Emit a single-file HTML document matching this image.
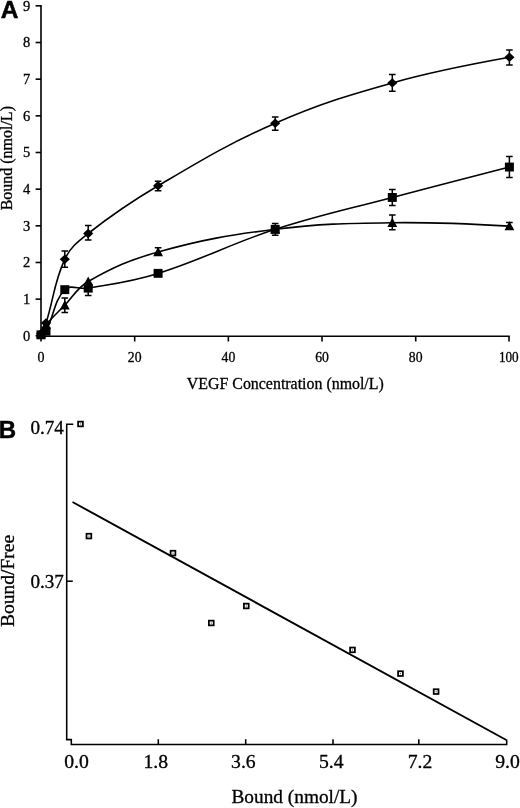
<!DOCTYPE html><html><head><meta charset="utf-8"><title>Figure</title>
<style>html,body{margin:0;padding:0;background:#fff}svg{display:block;opacity:.999;will-change:transform}text{font-family:"Liberation Serif","Times New Roman",serif;fill:#000;stroke:#000;stroke-width:.3px}.b{font-family:"Liberation Sans",Arial,sans-serif;font-weight:bold;fill:#000;stroke-width:.5px}</style></head><body>
<svg width="520" height="808" viewBox="0 0 520 808">
<rect width="520" height="808" fill="#fff"/>
<g stroke="#000" stroke-width="1.6" fill="none" stroke-linecap="butt">
<path d="M41.0,5.0 V336.2 H509.8"/>
<path d="M35.6,335.80 H41.0"/>
<path d="M35.6,299.14 H41.0"/>
<path d="M35.6,262.48 H41.0"/>
<path d="M35.6,225.82 H41.0"/>
<path d="M35.6,189.16 H41.0"/>
<path d="M35.6,152.50 H41.0"/>
<path d="M35.6,115.84 H41.0"/>
<path d="M35.6,79.18 H41.0"/>
<path d="M35.6,42.52 H41.0"/>
<path d="M35.6,5.80 H41.0"/>
<path d="M41.00,336.2 V341.5"/>
<path d="M134.68,336.2 V341.5"/>
<path d="M228.36,336.2 V341.5"/>
<path d="M322.04,336.2 V341.5"/>
<path d="M415.72,336.2 V341.5"/>
<path d="M509.00,336.2 V341.5"/>
</g>
<text x="30.2" y="340.6" font-size="14.5" text-anchor="end">0</text>
<text x="30.2" y="303.9" font-size="14.5" text-anchor="end">1</text>
<text x="30.2" y="267.3" font-size="14.5" text-anchor="end">2</text>
<text x="30.2" y="230.6" font-size="14.5" text-anchor="end">3</text>
<text x="30.2" y="194.0" font-size="14.5" text-anchor="end">4</text>
<text x="30.2" y="157.3" font-size="14.5" text-anchor="end">5</text>
<text x="30.2" y="120.6" font-size="14.5" text-anchor="end">6</text>
<text x="30.2" y="84.0" font-size="14.5" text-anchor="end">7</text>
<text x="30.2" y="47.3" font-size="14.5" text-anchor="end">8</text>
<text x="30.2" y="10.6" font-size="14.5" text-anchor="end">9</text>
<text x="41.0" y="362.3" font-size="14.5" text-anchor="middle" textLength="7.0" lengthAdjust="spacingAndGlyphs">0</text>
<text x="134.7" y="362.3" font-size="14.5" text-anchor="middle" textLength="13.7" lengthAdjust="spacingAndGlyphs">20</text>
<text x="228.4" y="362.3" font-size="14.5" text-anchor="middle" textLength="13.7" lengthAdjust="spacingAndGlyphs">40</text>
<text x="322.0" y="362.3" font-size="14.5" text-anchor="middle" textLength="13.7" lengthAdjust="spacingAndGlyphs">60</text>
<text x="415.7" y="362.3" font-size="14.5" text-anchor="middle" textLength="13.7" lengthAdjust="spacingAndGlyphs">80</text>
<text x="508.8" y="362.3" font-size="14.5" text-anchor="middle" textLength="19.8" lengthAdjust="spacingAndGlyphs">100</text>
<text x="285.3" y="388.6" font-size="16" text-anchor="middle" textLength="197" lengthAdjust="spacingAndGlyphs">VEGF Concentration (nmol/L)</text>
<text transform="translate(11.7,158.2) rotate(-90)" font-size="16.3" text-anchor="middle" textLength="104.3" lengthAdjust="spacingAndGlyphs">Bound (nmol/L)</text>
<text class="b" x="0.8" y="18.2" font-size="24.5">A</text>
<path d="M41.00,333.80 C41.00,333.80 44.62,327.42 46.03,323.00 C53.89,298.37 53.99,282.19 64.77,259.30 C70.43,247.29 77.57,241.86 88.19,233.50 C113.97,213.19 129.71,202.55 158.10,185.80 C202.64,159.53 227.94,143.96 275.20,123.20 C319.28,103.83 345.89,95.96 392.30,82.90 C437.22,70.26 509.40,57.30 509.40,57.30" stroke="#000" stroke-width="1.6" fill="none"/>
<path d="M41.00,334.90 C41.00,334.90 44.92,333.33 46.03,331.20 C54.19,315.70 53.92,300.79 64.77,289.70 C70.36,283.98 79.19,289.67 88.19,288.10 C115.59,283.32 131.59,281.73 158.10,273.40 C204.53,258.80 228.83,244.35 275.20,229.30 C320.17,214.71 346.56,209.57 392.30,197.40 C437.90,185.27 509.40,167.00 509.40,167.00" stroke="#000" stroke-width="1.6" fill="none"/>
<path d="M41.00,333.97 C41.00,333.97 43.45,327.92 46.03,324.80 C52.72,316.71 57.39,312.78 64.77,305.20 C73.83,295.89 77.08,287.83 88.19,281.50 C113.48,267.08 129.74,259.92 158.10,252.00 C202.68,239.56 229.15,235.06 275.20,229.30 C320.48,223.63 346.60,223.32 392.30,222.70 C437.94,222.08 509.40,226.10 509.40,226.10" stroke="#000" stroke-width="1.6" fill="none"/>
<g stroke="#000" stroke-width="1.5" fill="none">
<path d="M64.8,251.0 V267.2 M61.5,251.0 H68.1 M61.5,267.2 H68.1"/>
<path d="M88.2,225.4 V240.1 M84.9,225.4 H91.5 M84.9,240.1 H91.5"/>
<path d="M158.1,181.3 V190.8 M154.8,181.3 H161.4 M154.8,190.8 H161.4"/>
<path d="M275.2,116.9 V130.3 M271.9,116.9 H278.5 M271.9,130.3 H278.5"/>
<path d="M392.3,74.6 V91.2 M389.0,74.6 H395.6 M389.0,91.2 H395.6"/>
<path d="M509.4,49.9 V64.9 M506.1,49.9 H512.7 M506.1,64.9 H512.7"/>
<path d="M88.2,283.0 V295.4 M84.9,283.0 H91.5 M84.9,295.4 H91.5"/>
<path d="M275.2,223.4 V235.3 M271.9,223.4 H278.5 M271.9,235.3 H278.5"/>
<path d="M392.3,189.4 V205.6 M389.0,189.4 H395.6 M389.0,205.6 H395.6"/>
<path d="M509.4,156.5 V177.5 M506.1,156.5 H512.7 M506.1,177.5 H512.7"/>
<path d="M64.8,297.9 V312.6 M61.5,297.9 H68.1 M61.5,312.6 H68.1"/>
<path d="M158.1,247.8 V254.0 M154.8,247.8 H161.4 M154.8,254.0 H161.4"/>
<path d="M392.3,215.1 V229.8 M389.0,215.1 H395.6 M389.0,229.8 H395.6"/>
<path d="M509.4,222.6 V228.0 M506.1,222.6 H512.7 M506.1,228.0 H512.7"/>
</g>
<g fill="#000" stroke="none">
<rect x="36.5" y="330.4" width="9" height="8.9"/>
<rect x="41.5" y="326.8" width="9" height="8.9"/>
<rect x="60.3" y="285.2" width="9" height="8.9"/>
<rect x="83.7" y="283.7" width="9" height="8.9"/>
<rect x="153.6" y="268.9" width="9" height="8.9"/>
<rect x="270.7" y="224.9" width="9" height="8.9"/>
<rect x="387.8" y="193.0" width="9" height="8.9"/>
<rect x="504.9" y="162.6" width="9" height="8.9"/>
<path d="M41.0,329.1 L45.9,338.2 L36.1,338.2 Z"/>
<path d="M46.0,319.9 L50.9,329.0 L41.1,329.0 Z"/>
<path d="M64.8,300.3 L69.7,309.4 L59.9,309.4 Z"/>
<path d="M88.2,276.6 L93.1,285.7 L83.3,285.7 Z"/>
<path d="M158.1,247.1 L163.0,256.2 L153.2,256.2 Z"/>
<path d="M275.2,224.4 L280.1,233.5 L270.3,233.5 Z"/>
<path d="M392.3,217.8 L397.2,226.9 L387.4,226.9 Z"/>
<path d="M509.4,221.2 L514.3,230.3 L504.5,230.3 Z"/>
<path d="M41.0,329.1 L46.1,333.8 L41.0,338.5 L35.9,333.8 Z"/>
<path d="M46.0,318.3 L51.1,323.0 L46.0,327.7 L40.9,323.0 Z"/>
<path d="M64.8,254.6 L69.9,259.3 L64.8,264.0 L59.7,259.3 Z"/>
<path d="M88.2,228.8 L93.3,233.5 L88.2,238.2 L83.1,233.5 Z"/>
<path d="M158.1,181.1 L163.2,185.8 L158.1,190.5 L153.0,185.8 Z"/>
<path d="M275.2,118.5 L280.3,123.2 L275.2,127.9 L270.1,123.2 Z"/>
<path d="M392.3,78.2 L397.4,82.9 L392.3,87.6 L387.2,82.9 Z"/>
<path d="M509.4,52.6 L514.5,57.3 L509.4,62.0 L504.3,57.3 Z"/>
</g>
<g stroke="#000" stroke-width="1.55" fill="none">
<path d="M73.3,424.2 H66.7 V739.6 H71.3 V744.4 H506.7 V739.4"/>
<path d="M66.7,581.2 H72.8"/>
<path d="M158.30,744.4 V739.2"/>
<path d="M245.70,744.4 V739.2"/>
<path d="M333.00,744.4 V739.2"/>
<path d="M418.80,744.4 V739.2"/>
</g>
<path d="M72.5,502 L506.3,740" stroke="#000" stroke-width="1.9" fill="none"/>
<rect x="78.10" y="421.65" width="4.8" height="4.7" fill="#fff" stroke="#000" stroke-width="1.75"/>
<rect x="80.0" y="423.4" width="1.1" height="1.1" fill="#555"/>
<rect x="86.50" y="533.75" width="4.8" height="4.7" fill="#fff" stroke="#000" stroke-width="1.75"/>
<rect x="88.4" y="535.6" width="1.1" height="1.1" fill="#555"/>
<rect x="170.60" y="550.75" width="4.8" height="4.7" fill="#fff" stroke="#000" stroke-width="1.75"/>
<rect x="172.4" y="552.6" width="1.1" height="1.1" fill="#555"/>
<rect x="208.90" y="620.65" width="4.8" height="4.7" fill="#fff" stroke="#000" stroke-width="1.75"/>
<rect x="210.8" y="622.5" width="1.1" height="1.1" fill="#555"/>
<rect x="243.90" y="603.65" width="4.8" height="4.7" fill="#fff" stroke="#000" stroke-width="1.75"/>
<rect x="245.8" y="605.5" width="1.1" height="1.1" fill="#555"/>
<rect x="350.10" y="647.55" width="4.8" height="4.7" fill="#fff" stroke="#000" stroke-width="1.75"/>
<rect x="351.9" y="649.4" width="1.1" height="1.1" fill="#555"/>
<rect x="398.10" y="671.25" width="4.8" height="4.7" fill="#fff" stroke="#000" stroke-width="1.75"/>
<rect x="399.9" y="673.1" width="1.1" height="1.1" fill="#555"/>
<rect x="433.70" y="689.25" width="4.8" height="4.7" fill="#fff" stroke="#000" stroke-width="1.75"/>
<rect x="435.6" y="691.1" width="1.1" height="1.1" fill="#555"/>
<text class="b" x="-1.2" y="438.4" font-size="24">B</text>
<text x="30.4" y="433.8" font-size="17.8" textLength="33.4" lengthAdjust="spacingAndGlyphs">0.74</text>
<text x="30.4" y="588.3" font-size="17.8" textLength="33.4" lengthAdjust="spacingAndGlyphs">0.37</text>
<text x="64.2" y="767.8" font-size="17.8" textLength="24.6" lengthAdjust="spacingAndGlyphs">0.0</text>
<text x="143.4" y="767.8" font-size="17.8" textLength="24.6" lengthAdjust="spacingAndGlyphs">1.8</text>
<text x="231.1" y="767.8" font-size="17.8" textLength="24.6" lengthAdjust="spacingAndGlyphs">3.6</text>
<text x="318.9" y="767.8" font-size="17.8" textLength="24.6" lengthAdjust="spacingAndGlyphs">5.4</text>
<text x="407.7" y="767.8" font-size="17.8" textLength="24.6" lengthAdjust="spacingAndGlyphs">7.2</text>
<text x="495.2" y="767.8" font-size="17.8" textLength="24.6" lengthAdjust="spacingAndGlyphs">9.0</text>
<text x="294.5" y="802.8" font-size="19" text-anchor="middle" textLength="126" lengthAdjust="spacingAndGlyphs">Bound (nmol/L)</text>
<text transform="translate(13.6,580.9) rotate(-90)" font-size="17.8" text-anchor="middle" textLength="92.2" lengthAdjust="spacingAndGlyphs">Bound/Free</text>
</svg></body></html>
